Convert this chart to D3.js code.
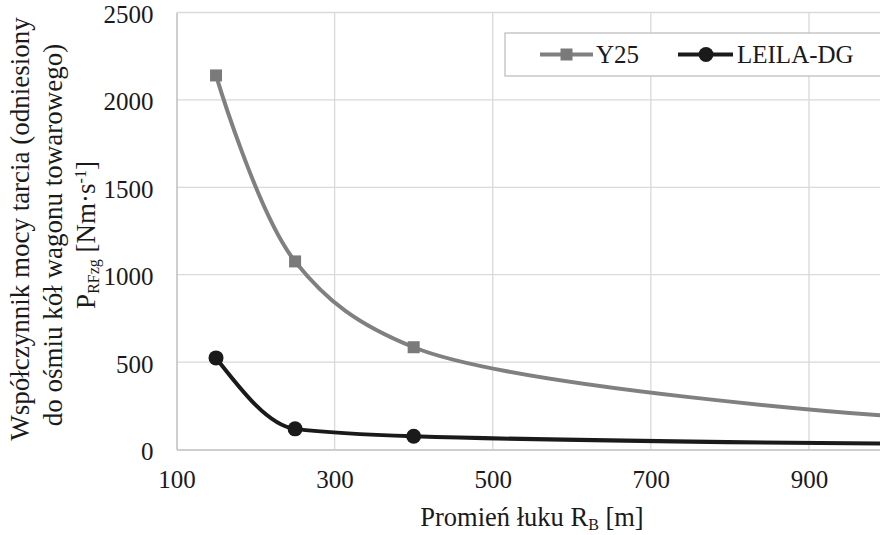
<!DOCTYPE html>
<html>
<head>
<meta charset="utf-8">
<script src="https://cdn.jsdelivr.net/npm/d3@7"></script>
<style>
  html, body { margin: 0; padding: 0; background: #fff; }
  svg { display: block; }
  text { font-family: "Liberation Serif", "Times New Roman", serif; fill: #1a1a1a; }
</style>
</head>
<body>
<svg id="chart" width="880" height="535"></svg>
<script>
// ---- data ----
const radii = [150, 250, 400, 1000];
const y25 = [2140, 1076, 585, 192];
const leila = [524, 118, 76, 34];
const seriesNames = ["Y25", "LEILA-DG"];
const xTicks = [100, 300, 500, 700, 900];
const yTicks = [0, 500, 1000, 1500, 2000, 2500];

const svg = d3.select("#chart");
svg.append("rect").attr("width", 880).attr("height", 535).attr("fill", "#fff");

const x = d3.scaleLinear().domain([100, 1000]).range([176.5, 888]);
const y = d3.scaleLinear().domain([0, 2500]).range([449.5, 12.5]);

// gridlines
const grid = svg.append("g");
grid.selectAll("line.h").data(yTicks.filter(d => d > 0)).join("line")
  .attr("x1", x(100)).attr("x2", 880)
  .attr("y1", d => y(d)).attr("y2", d => y(d))
  .attr("stroke", "#d9d9d9").attr("stroke-width", 1.3);
grid.selectAll("line.v").data(xTicks.filter(d => d > 100)).join("line")
  .attr("x1", d => x(d)).attr("x2", d => x(d))
  .attr("y1", y(2500)).attr("y2", y(0))
  .attr("stroke", "#d9d9d9").attr("stroke-width", 1.3);

// axes
const yAxis = d3.axisLeft(y).tickValues(yTicks).tickSize(0).tickPadding(23).tickFormat(d3.format("d"));
const gy = svg.append("g").attr("transform", `translate(${x(100)},0)`).call(yAxis)
  .attr("font-family", null).attr("font-size", 25);
gy.select(".domain").attr("stroke", "#bfbfbf").attr("stroke-width", 1.5);
gy.selectAll("text").attr("dy", "0.4em");

const xAxis = d3.axisBottom(x).tickValues(xTicks).tickSize(0).tickPadding(21).tickFormat(d3.format("d"));
const gx = svg.append("g").attr("transform", `translate(0,${y(0)})`).call(xAxis)
  .attr("font-family", null).attr("font-size", 25);
gx.select(".domain").attr("stroke", "#bfbfbf").attr("stroke-width", 1.5);

// lines
const d1 = radii.map((r, i) => [r, y25[i]]);
const d2 = radii.map((r, i) => [r, leila[i]]);
const line1 = d3.line().x(d => x(d[0])).y(d => y(d[1])).curve(d3.curveCatmullRom.alpha(0.5));
const line2 = d3.line().x(d => x(d[0])).y(d => y(d[1])).curve(d3.curveMonotoneX);

svg.append("path").attr("d", line1(d1)).attr("fill", "none")
  .attr("stroke", "#808080").attr("stroke-width", 4);
svg.append("path").attr("d", line2(d2)).attr("fill", "none")
  .attr("stroke", "#1a1a1a").attr("stroke-width", 4);

const sq = 12;
svg.selectAll("rect.m1").data(d1).join("rect")
  .attr("x", d => x(d[0]) - sq / 2).attr("y", d => y(d[1]) - sq / 2)
  .attr("width", sq).attr("height", sq).attr("fill", "#7a7a7a");
svg.selectAll("circle.m2").data(d2).join("circle")
  .attr("cx", d => x(d[0])).attr("cy", d => y(d[1])).attr("r", 7.5)
  .attr("fill", "#1a1a1a");

// legend
const lg = svg.append("g").attr("font-size", 25);
lg.append("rect").attr("x", 505).attr("y", 33).attr("width", 400).attr("height", 43)
  .attr("fill", "#fff").attr("stroke", "#bfbfbf").attr("stroke-width", 1.3);
const ly = 54.5;
lg.append("line").attr("x1", 540).attr("x2", 593).attr("y1", ly).attr("y2", ly)
  .attr("stroke", "#808080").attr("stroke-width", 4);
lg.append("rect").attr("x", 566.5 - sq / 2).attr("y", ly - sq / 2).attr("width", sq).attr("height", sq)
  .attr("fill", "#7a7a7a");
lg.append("text").attr("x", 596).attr("y", ly + 8.5).text(seriesNames[0]);
lg.append("line").attr("x1", 678).attr("x2", 733).attr("y1", ly).attr("y2", ly)
  .attr("stroke", "#1a1a1a").attr("stroke-width", 4);
lg.append("circle").attr("cx", 706).attr("cy", ly).attr("r", 7.5).attr("fill", "#1a1a1a");
lg.append("text").attr("x", 737).attr("y", ly + 8.5).text(seriesNames[1]);

// x axis title
const xt = svg.append("text").attr("x", 532).attr("y", 526).attr("text-anchor", "middle").attr("font-size", 26.5);
xt.append("tspan").text("Promień łuku R");
xt.append("tspan").attr("font-size", 16).attr("baseline-shift", "-4").text("B");
xt.append("tspan").text(" [m]");

// y axis title
const cy = 229;
const yt = svg.append("g").attr("font-size", 27);
yt.append("text").attr("transform", `translate(28.5,${cy}) rotate(-90)`).attr("text-anchor", "middle")
  .text("Współczynnik mocy tarcia (odniesiony");
yt.append("text").attr("transform", `translate(61.5,${cy + 6}) rotate(-90)`).attr("text-anchor", "middle")
  .text("do ośmiu kół wagonu towarowego)");
const t3 = yt.append("text").attr("transform", `translate(95,${cy + 6}) rotate(-90)`).attr("text-anchor", "middle");
t3.append("tspan").text("P");
t3.append("tspan").attr("font-size", 16).attr("baseline-shift", "-4").text("RFzg");
t3.append("tspan").text(" [Nm·s");
t3.append("tspan").attr("font-size", 16).attr("baseline-shift", "9").text("-1");
t3.append("tspan").text("]");
</script>
</body>
</html>
